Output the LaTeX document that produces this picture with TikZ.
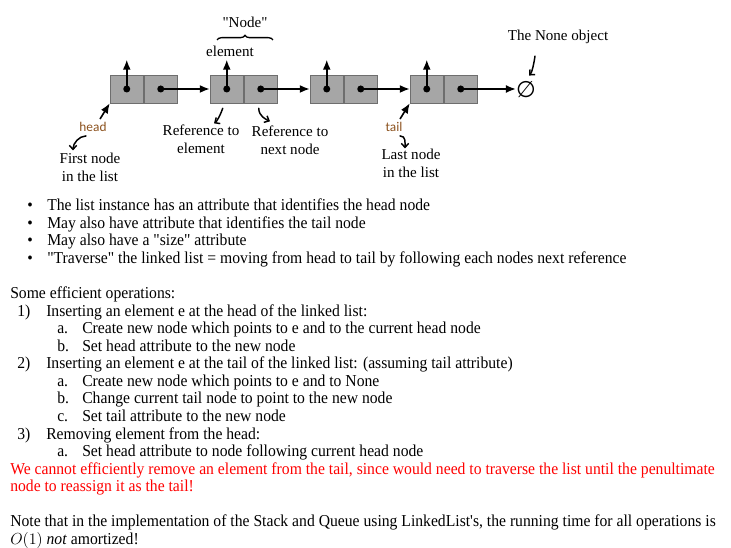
\documentclass[tikz,border=0pt]{standalone}
\usepackage{fontspec}
\setmainfont[FakeStretch=0.94, Ligatures=TeXOff]{Liberation Serif}
\newfontfamily\labelfont[Ligatures=TeXOff]{Liberation Serif}
\newfontfamily\tagfont{Carlito}
\newfontfamily\symfont{DejaVu Sans}
\usetikzlibrary{positioning,arrows.meta,decorations.pathreplacing,calc}
\definecolor{cellgray}{RGB}{166,166,166}
\definecolor{cellline}{RGB}{110,110,110}
\definecolor{tagbrown}{RGB}{140,82,30}
\definecolor{warnred}{RGB}{255,0,0}

\begin{document}
\begin{tikzpicture}[x=0.75pt, y=-0.75pt, >={Latex[length=7.5pt,width=6pt]},
    cell/.style={draw=cellline, fill=cellgray, minimum width=25.1pt, minimum height=21pt, inner sep=0pt},
    ptr/.style={->, line width=1.2pt},
    hand/.style={-{Straight Barb[length=3pt,width=5.5pt]}, line width=1.1pt, line cap=round},
    lbl/.style={font=\labelfont\fontsize{11.3}{13.5}\selectfont, align=center, inner sep=0pt},
    tag/.style={font=\tagfont\fontsize{10}{12}\selectfont, text=tagbrown, inner sep=0pt},
    txt/.style={anchor=base west, inner sep=0pt, font=\fontsize{12.5}{13}\selectfont}]

    \useasboundingbox (0,0) rectangle (731,548);

    % Nodi della lista
    \foreach \i/\x in {1/126.75, 2/226.75, 3/326.75, 4/426.75} {
        \node[cell] (e\i) at (\x, 89) {};
        \node[cell, right=0pt of e\i] (r\i) {};
        \coordinate[above=11.25pt of e\i] (up\i);
        \draw[ptr] (e\i.center) -- (up\i);
        \fill (e\i.center) circle (3.5);
        \fill (r\i.center) circle (3.5);
    }

    % Puntatori next
    \node[inner sep=0pt] (none) at (526, 90) {\symfont\fontsize{17}{17}\selectfont ∅};
    \foreach \i/\j in {1/2, 2/3, 3/4}
        \draw[ptr] (r\i.center) -- (e\j.west);
    \draw[ptr] (r4.center) -- (r4.center -| none.west);

    % Etichette del diagramma
    \node[lbl] (nodelbl) at (245, 22) {"Node"};
    \draw[decorate, decoration={brace, amplitude=3.5pt}, line width=1pt] (217, 40) -- (273, 40);
    \node[lbl] (elem) at (230, 51) {element};

    \node[tag] (head) at (93, 127) {head};
    \draw[ptr] ($(head.north)+(7,-3)$) -- (e1.south west);
    \node[lbl] (first) at (90, 167) {First node\\in the list};
    \draw[hand] ($(head.south)+(-7,4)$) .. controls +(-7,0) and +(0,-7) .. ($(first.north)+(-17,-2)$);

    \node[lbl] (refel) at (201, 139) {Reference to\\element};
    \node[lbl] (refnx) at (290, 140) {Reference to\\next node};
    \draw[hand] ($(e2.south)+(-4,5)$) .. controls +(-2,6) and +(3,-2) .. ($(refel.north)+(13,-1)$);
    \draw[hand] ($(r2.south)+(-2,5)$) .. controls +(0,8) and +(-4,-2) .. ($(refnx.north)+(-20,-4)$);

    \node[tag] (tail) at (394, 127) {tail};
    \draw[ptr] ($(tail.north)+(6,-3)$) -- (e4.south west);
    \node[lbl] (last) at (411, 163) {Last node\\in the list};
    \draw[hand] ($(tail.south)+(6,4)$) .. controls +(6,0) and +(0,-6) .. ($(last.north)+(-6,0)$);

    \node[lbl] (nonelbl) at (558, 37) {The None object};
    \draw[hand] ($(nonelbl.south)+(-23,12)$) .. controls +(-1,7) and +(3,-3) .. ($(none.north)+(3,-6)$);

    % Testo
    \foreach \y/\t [count=\k] in {211/{The list instance has an attribute that identifies the head node},
            228.5/{May also have attribute that identifies the tail node},
            246/{May also have a "size" attribute},
            263.5/{"Traverse" the linked list = moving from head to tail by following each nodes next reference}} {
        \node[txt] (dot\k) at (27, \y) {•};
        \node[txt] (bul\k) at (47, \y) {\t};
    }

    \node[txt] (ops) at (10, 299) {Some efficient operations:};
    \node[txt] (o1) at (17, 316.5) {1)};
    \node[txt] (o1t) at (46, 316.5) {Inserting an element e at the head of the linked list:};
    \node[txt] (o1a) at (57, 334) {a.};
    \node[txt] (o1at) at (82, 334) {Create new node which points to e and to the current head node};
    \node[txt] (o1b) at (57, 351.5) {b.};
    \node[txt] (o1bt) at (82, 351.5) {Set head attribute to the new node};
    \node[txt] (o2) at (17, 369) {2)};
    \node[txt] (o2t) at (46, 369) {Inserting an element e at the tail of the linked list: (assuming tail attribute)};
    \node[txt] (o2a) at (57, 386.5) {a.};
    \node[txt] (o2at) at (82, 386.5) {Create new node which points to e and to None};
    \node[txt] (o2b) at (57, 404) {b.};
    \node[txt] (o2bt) at (82, 404) {Change current tail node to point to the new node};
    \node[txt] (o2c) at (57, 421.5) {c.};
    \node[txt] (o2ct) at (82, 421.5) {Set tail attribute to the new node};
    \node[txt] (o3) at (17, 439) {3)};
    \node[txt] (o3t) at (46, 439) {Removing element from the head:};
    \node[txt] (o3a) at (57, 456.5) {a.};
    \node[txt] (o3at) at (82, 456.5) {Set head attribute to node following current head node};

    \node[txt, text=warnred] (warn1) at (10, 474) {We cannot efficiently remove an element from the tail, since would need to traverse the list until the penultimate};
    \node[txt, text=warnred] (warn2) at (10, 491.5) {node to reassign it as the tail!};

    \node[txt] (note1) at (10, 526.5) {Note that in the implementation of the Stack and Queue using LinkedList's, the running time for all operations is};
    \node[txt] (note2) at (10, 544) {$O(1)$ \textit{not} amortized!};
\end{tikzpicture}
\end{document}
